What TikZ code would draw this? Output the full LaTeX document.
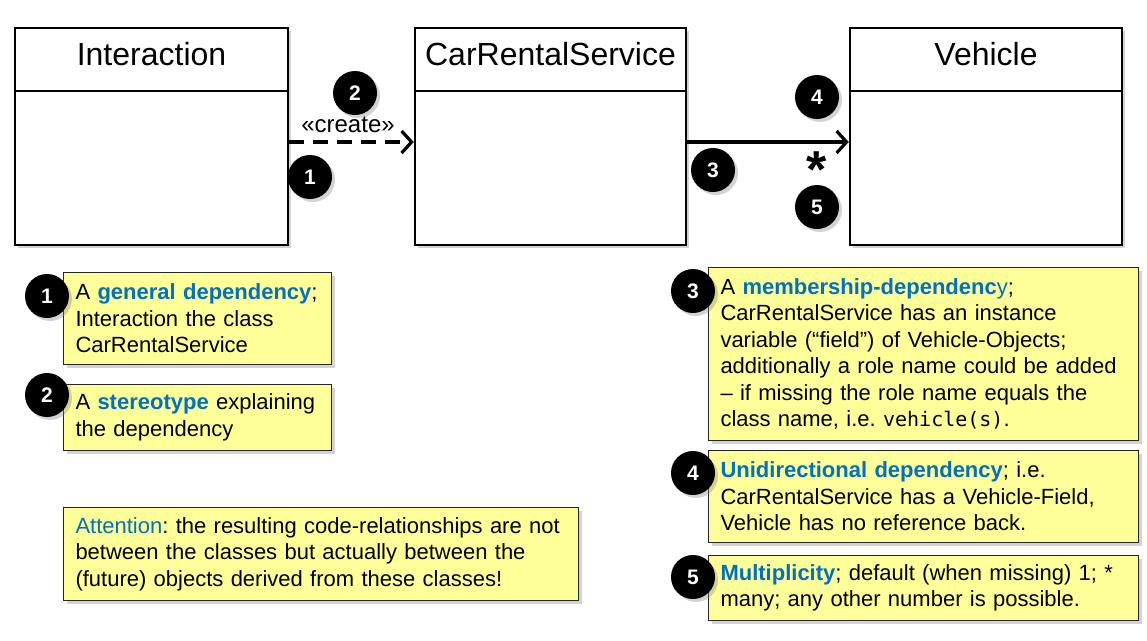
\documentclass[tikz,border=0pt]{standalone}
\usepackage{fontspec}
\setmainfont{Liberation Sans}
\newfontfamily\codefont{DejaVu Sans Mono}
\usetikzlibrary{arrows.meta,shadows}
\definecolor{ublue}{RGB}{0,112,192}
\definecolor{noteyellow}{RGB}{255,255,153}
\newcommand\term[1]{\textcolor{ublue}{\textbf{#1}}}
\frenchspacing
\begin{document}
\begin{tikzpicture}[x=1pt,y=-1pt,
  classbox/.style={draw, line width=2.5pt, fill=white, inner sep=0pt,
    drop shadow={shadow xshift=3pt, shadow yshift=-3pt, opacity=0.35}},
  classname/.style={font=\fontsize{32}{32}\selectfont, anchor=base},
  divider/.style={line width=2.5pt},
  num/.style={circle, fill=black, text=white, inner sep=0pt, minimum size=44pt,
    font=\bfseries\fontsize{21}{21}\selectfont,
    drop shadow={shadow xshift=3pt, shadow yshift=-3pt, opacity=0.35}},
  note/.style={draw=black!85, line width=1pt, fill=noteyellow, anchor=north west,
    align=left, inner xsep=12pt, inner ysep=0pt,
    font=\fontsize{22}{26.5}\selectfont,
    drop shadow={shadow xshift=3pt, shadow yshift=-3pt, opacity=0.35}},
  dep/.style={line width=3.8pt, dash pattern=on 15pt off 9pt,
    -{Straight Barb[length=10pt,width=22pt,line width=3.2pt]}},
  assoc/.style={line width=3.8pt,
    -{Straight Barb[length=10pt,width=22pt,line width=3.2pt]}},
  lbl/.style={font=\fontsize{24}{24}\selectfont, inner sep=1pt},
  mult/.style={font=\bfseries\fontsize{52}{52}\selectfont, inner sep=0pt}
]
\useasboundingbox (0,0) rectangle (1147,640);

% classes
\node[classbox, minimum width=273pt, minimum height=217pt] (int) at (151.5,136.5) {};
\node[classbox, minimum width=271pt, minimum height=217pt] (crs) at (550.5,136.5) {};
\node[classbox, minimum width=272pt, minimum height=217pt] (veh) at (986,136.5) {};
\node[classname] (intname) at (151.5,65) {Interaction};
\node[classname] (crsname) at (550.5,65) {CarRentalService};
\node[classname] (vehname) at (986,65) {Vehicle};
\draw[divider] (int.west |- 0,91) -- (int.east |- 0,91);
\draw[divider] (crs.west |- 0,91) -- (crs.east |- 0,91);
\draw[divider] (veh.west |- 0,91) -- (veh.east |- 0,91);

% connectors
\draw[dep] (int.east |- 0,142) -- (crs.west |- 0,142);
\node[lbl] (create) at (348,125) {«create»};
\draw[assoc] (crs.east |- 0,142) -- (veh.west |- 0,142);
\node[mult] (star) at (817,170) {*};

% numbers in diagram
\node[num] (d2) at (355,93) {2};
\node[num] (d1) at (310,177) {1};
\node[num] (d3) at (713,170) {3};
\node[num] (d4) at (817,97) {4};
\node[num] (d5) at (817,207) {5};

% notes
\node[note, text width=244pt, minimum height=92pt] (n1) at (63,272)
  {A \term{general dependency};\\Interaction the class\\CarRentalService};
\node[note, text width=244pt, minimum height=66pt] (n2) at (63,384)
  {A \term{stereotype} explaining\\the dependency};
\node[note, text width=491pt, minimum height=93pt] (n6) at (63,507)
  {\textcolor{ublue}{Attention}: the resulting code-relationships are not\\between the classes but actually between the\\(future) objects derived from these classes!};
\node[note, text width=406pt, minimum height=173pt] (n3) at (708,267)
  {A \term{membership-dependenc}\textcolor{ublue}{y};\\CarRentalService has an instance\\variable (“field”) of Vehicle-Objects;\\additionally a role name could be added\\– if missing the role name equals the\\class name, i.e. {\codefont\fontsize{20}{26.5}\selectfont vehicle(s)}.};
\node[note, text width=406pt, minimum height=92pt] (n4) at (708,450)
  {\term{Unidirectional dependency}; i.e.\\CarRentalService has a Vehicle-Field,\\Vehicle has no reference back.};
\node[note, text width=406pt, minimum height=65pt] (n5) at (708,555)
  {\term{Multiplicity}; default (when missing) 1; *\\many; any other number is possible.};

\node[num] (c1) at (47,296) {1};
\node[num] (c2) at (47,395) {2};
\node[num] (c3) at (693,291) {3};
\node[num] (c4) at (693,473) {4};
\node[num] (c5) at (693,577) {5};
\end{tikzpicture}
\end{document}
